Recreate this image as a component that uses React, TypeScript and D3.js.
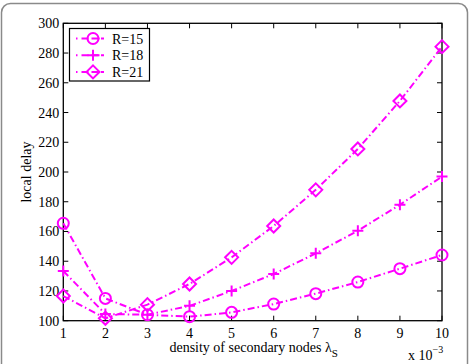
import React, { useRef, useEffect } from "react";
import * as d3 from "d3";

const xValues = [1, 2, 3, 4, 5, 6, 7, 8, 9, 10];
const r15 = [165.5, 115, 104, 102.7, 105.6, 111.2, 118.2, 126, 135, 144.2];
const r18 = [133.4, 104.5, 104, 110, 120, 131.4, 145.3, 160.5, 178, 196.9];
const r21 = [116.6, 101.6, 110.8, 124.7, 142.6, 163.7, 188, 215.5, 247.8, 284.3];
const seriesNames = ["R=15", "R=18", "R=21"];
const markers = ["circle", "plus", "diamond"];
const yTicks = [100, 120, 140, 160, 180, 200, 220, 240, 260, 280, 300];

const WIDTH = 470;
const HEIGHT = 364;
const COLOR = "#ff00ff";
const FONT = "'Liberation Serif', 'Times New Roman', serif";

const drawMarker = (
  g: d3.Selection<SVGGElement, unknown, null, undefined>,
  type: string,
  x: number,
  y: number
) => {
  if (type === "circle") {
    g.append("circle")
      .attr("cx", x)
      .attr("cy", y)
      .attr("r", 5.5)
      .attr("fill", "none")
      .attr("stroke", COLOR)
      .attr("stroke-width", 2);
  } else if (type === "plus") {
    g.append("path")
      .attr("d", `M${x - 5.5},${y}H${x + 5.5}M${x},${y - 5.5}V${y + 5.5}`)
      .attr("stroke", COLOR)
      .attr("stroke-width", 2);
  } else {
    const s = 6.5;
    g.append("path")
      .attr("d", `M${x},${y - s}L${x + s},${y}L${x},${y + s}L${x - s},${y}Z`)
      .attr("fill", "none")
      .attr("stroke", COLOR)
      .attr("stroke-width", 2);
  }
};

const App: React.FC = () => {
  const svgRef = useRef<SVGSVGElement | null>(null);

  useEffect(() => {
    if (!svgRef.current) return;
    const svg = d3.select(svgRef.current);
    svg.selectAll("*").remove();

    const left = 63.3;
    const right = 442;
    const top = 23.3;
    const bottom = 320.7;

    const x = d3.scaleLinear().domain([1, 10]).range([left, right]);
    const y = d3.scaleLinear().domain([100, 300]).range([bottom, top]);

    // outer frame
    svg
      .append("rect")
      .attr("x", 1.5)
      .attr("y", 3.5)
      .attr("width", 466)
      .attr("height", 380)
      .attr("rx", 9)
      .attr("fill", "white")
      .attr("stroke", "#8a8a8a")
      .attr("stroke-width", 1.5);

    const axes = svg.append("g");
    const tickLen = 5;

    xValues.forEach((v) => {
      const px = x(v);
      axes
        .append("line")
        .attr("x1", px)
        .attr("x2", px)
        .attr("y1", bottom)
        .attr("y2", bottom - tickLen)
        .attr("stroke", "black");
      axes
        .append("line")
        .attr("x1", px)
        .attr("x2", px)
        .attr("y1", top)
        .attr("y2", top + tickLen)
        .attr("stroke", "black");
      axes
        .append("text")
        .attr("x", px)
        .attr("y", bottom + 17)
        .attr("text-anchor", "middle")
        .attr("font-family", FONT)
        .attr("font-size", 14)
        .text(v);
    });

    yTicks.forEach((v) => {
      const py = y(v);
      axes
        .append("line")
        .attr("x1", left)
        .attr("x2", left + tickLen)
        .attr("y1", py)
        .attr("y2", py)
        .attr("stroke", "black");
      axes
        .append("line")
        .attr("x1", right)
        .attr("x2", right - tickLen)
        .attr("y1", py)
        .attr("y2", py)
        .attr("stroke", "black");
      axes
        .append("text")
        .attr("x", left - 4)
        .attr("y", py + 5)
        .attr("text-anchor", "end")
        .attr("font-family", FONT)
        .attr("font-size", 14)
        .text(v);
    });

    axes
      .append("rect")
      .attr("x", left)
      .attr("y", top)
      .attr("width", right - left)
      .attr("height", bottom - top)
      .attr("fill", "none")
      .attr("stroke", "black")
      .attr("stroke-width", 1.3);

    // axis labels
    svg
      .append("text")
      .attr("transform", `translate(31,${(top + bottom) / 2}) rotate(-90)`)
      .attr("text-anchor", "middle")
      .attr("font-family", FONT)
      .attr("font-size", 14)
      .text("local delay");

    const xl = svg
      .append("text")
      .attr("x", (left + right) / 2 + 1)
      .attr("y", 352)
      .attr("text-anchor", "middle")
      .attr("font-family", FONT)
      .attr("font-size", 14);
    xl.append("tspan").text("density of secondary nodes \u03bb");
    xl.append("tspan").attr("dy", 5).attr("font-size", 11).text("S");

    const ex = svg
      .append("text")
      .attr("x", 408)
      .attr("y", 360)
      .attr("font-family", FONT)
      .attr("font-size", 14);
    ex.append("tspan").text("x 10");
    ex.append("tspan").attr("dy", -7).attr("font-size", 10).text("\u22123");

    const series = [r15, r18, r21];
    const line = d3
      .line<number>()
      .x((_, i) => x(xValues[i]))
      .y((d) => y(d));

    series.forEach((vals, si) => {
      const g = svg.append("g");
      g.append("path")
        .attr("d", line(vals) as string)
        .attr("fill", "none")
        .attr("stroke", COLOR)
        .attr("stroke-width", 2)
        .attr("stroke-dasharray", "7,3,1.5,3");
      vals.forEach((v, i) => drawMarker(g, markers[si], x(xValues[i]), y(v)));
    });

    // legend
    const lg = svg.append("g");
    lg.append("rect")
      .attr("x", 69.5)
      .attr("y", 28.5)
      .attr("width", 80)
      .attr("height", 52.5)
      .attr("fill", "white")
      .attr("stroke", "black")
      .attr("stroke-width", 1.2);
    seriesNames.forEach((name, i) => {
      const ly = 38.5 + i * 16.7;
      lg.append("line")
        .attr("x1", 76)
        .attr("x2", 104)
        .attr("y1", ly)
        .attr("y2", ly)
        .attr("stroke", COLOR)
        .attr("stroke-width", 2)
        .attr("stroke-dasharray", "1.5,4,7,3,8");
      drawMarker(lg, markers[i], 93, ly);
      lg.append("text")
        .attr("x", 112)
        .attr("y", ly + 5)
        .attr("font-family", FONT)
        .attr("font-size", 14)
        .text(name);
    });
  }, []);

  return (
    <svg
      ref={svgRef}
      width={WIDTH}
      height={HEIGHT}
      style={{ position: "absolute", left: 0, top: 0, background: "white" }}
    ></svg>
  );
};

export default App;
